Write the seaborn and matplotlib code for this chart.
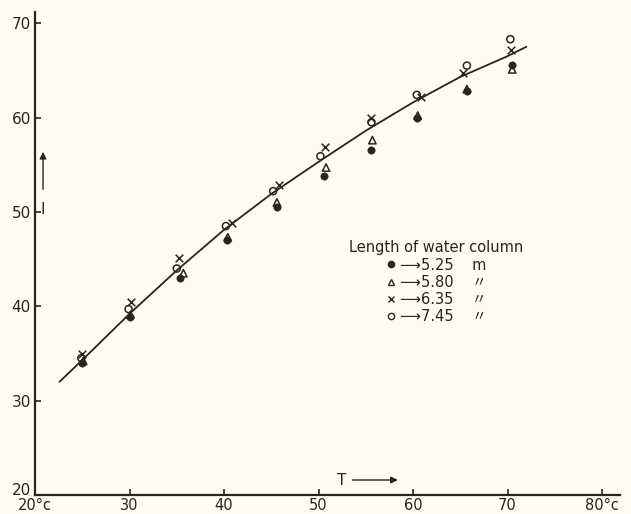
import numpy as np
import pandas as pd
import seaborn as sns
import matplotlib.pyplot as plt
import matplotlib.transforms as mtransforms
from matplotlib.lines import Line2D

# fitted curve I(T)
curve_t = [22.6, 25, 30, 35, 40, 45, 50, 55, 60, 65, 70, 72]
curve_i = [32.0, 34.3, 39.2, 43.8, 48.1, 51.9, 55.3, 58.6, 61.6, 64.3, 66.5, 67.5]

# measured points, one list per water column length
t_525 = [25.0, 30.0, 35.3, 40.3, 45.6, 50.6, 55.6, 60.4, 65.7, 70.5]
i_525 = [34.0, 38.9, 43.0, 47.0, 50.5, 53.8, 56.6, 60.0, 62.8, 65.6]
t_580 = [25.1, 30.1, 35.7, 40.4, 45.6, 50.8, 55.7, 60.5, 65.7, 70.5]
i_580 = [34.2, 39.1, 43.5, 47.3, 51.0, 54.7, 57.6, 60.2, 63.0, 65.1]
t_635 = [25.0, 30.2, 35.2, 40.8, 45.8, 50.7, 55.6, 60.8, 65.3, 70.4]
i_635 = [34.9, 40.4, 45.1, 48.8, 52.9, 56.9, 59.9, 62.2, 64.7, 67.2]
t_745 = [24.9, 29.9, 35.0, 40.2, 45.2, 50.2, 55.6, 60.4, 65.7, 70.3]
i_745 = [34.5, 39.7, 44.0, 48.5, 52.2, 55.9, 59.5, 62.4, 65.5, 68.3]

lengths = ["5.25", "5.80", "6.35", "7.45"]
units = ["m", "\u3003", "\u3003", "\u3003"]

x_ticks = [20, 30, 40, 50, 60, 70, 80]
x_labels = ["20°c", "30", "40", "50", "60", "70", "80°c"]
y_ticks = [20, 30, 40, 50, 60, 70]

ink = "#26261a"
paper = "#fdfcee"

sns.set_style("ticks")
plt.rcParams["font.family"] = ["DejaVu Sans", "Noto Sans CJK JP"]

fig = plt.figure(figsize=(6.31, 5.14), dpi=100, facecolor=paper)
ax = fig.add_axes([0.0555, 0.037, 0.927, 0.940], facecolor=paper)

sns.lineplot(x=curve_t, y=curve_i, color=ink, linewidth=1.3, ax=ax)

sns.scatterplot(x=t_525, y=i_525, marker="o", s=28, color=ink, edgecolor=ink, ax=ax, zorder=3)
sns.scatterplot(x=t_580, y=i_580, marker="^", s=28, color=ink, facecolor="none",
                edgecolor=ink, linewidth=1.1, ax=ax, zorder=3)
sns.scatterplot(x=t_635, y=i_635, marker="x", s=30, color=ink, edgecolor=ink,
                linewidth=1.1, ax=ax, zorder=3)
sns.scatterplot(x=t_745, y=i_745, marker="o", s=26, color=ink, facecolor="none",
                edgecolor=ink, linewidth=1.1, ax=ax, zorder=3)

ax.set_xlim(20, 81.9)
ax.set_ylim(20, 71.2)
ax.set_xticks(x_ticks)
ax.set_xticklabels(x_labels)
ax.set_yticks(y_ticks)
ax.tick_params(direction="in", length=4, width=1.2, colors=ink, labelsize=11)
ax.tick_params(axis="x", pad=2.5, labelsize=10.5)
ax.tick_params(axis="y", pad=3)
ax.set_xlabel("")
ax.set_ylabel("")
sns.despine(ax=ax)
for side in ["left", "bottom"]:
    ax.spines[side].set_linewidth(1.6)
    ax.spines[side].set_color(ink)

# the corner "20" sits a little higher so it clears "20°c"
lift = mtransforms.ScaledTranslation(0, 4 / 72, fig.dpi_scale_trans)
corner = ax.get_yticklabels()[0]
corner.set_transform(corner.get_transform() + lift)

# axis names with arrows, drawn inside the frame as on the original
ax.text(0.0137, 0.59, "I", transform=ax.transAxes, ha="center", va="center",
        fontsize=11, color=ink)
ax.annotate("", xy=(0.0137, 0.716), xytext=(0.0137, 0.627), xycoords="axes fraction",
            arrowprops=dict(arrowstyle="-|>", color=ink, lw=1.0, mutation_scale=10))
ax.text(0.525, 0.031, "T", transform=ax.transAxes, ha="center", va="center",
        fontsize=11, color=ink)
ax.annotate("", xy=(0.625, 0.031), xytext=(0.538, 0.031), xycoords="axes fraction",
            arrowprops=dict(arrowstyle="-|>", color=ink, lw=1.0, mutation_scale=10))

handles = [
    Line2D([], [], marker="o", ls="", color=ink, markersize=4.5),
    Line2D([], [], marker="^", ls="", color=ink, mfc="none", markersize=4.5),
    Line2D([], [], marker="x", ls="", color=ink, markersize=4.5),
    Line2D([], [], marker="o", ls="", color=ink, mfc="none", markersize=4.5),
]
labels = [f"\u27f6{l}    {u}" for l, u in zip(lengths, units)]
leg = ax.legend(handles, labels, title="Length of water column", loc="upper center",
                bbox_to_anchor=(0.685, 0.527), frameon=False, fontsize=10.5,
                title_fontsize=10.5, handlelength=0.8, handletextpad=0.2,
                labelspacing=0.15, borderpad=0, borderaxespad=0)
for txt in leg.get_texts():
    txt.set_color(ink)
leg.get_title().set_color(ink)

fig.savefig("out.png", dpi=100, facecolor=paper)
